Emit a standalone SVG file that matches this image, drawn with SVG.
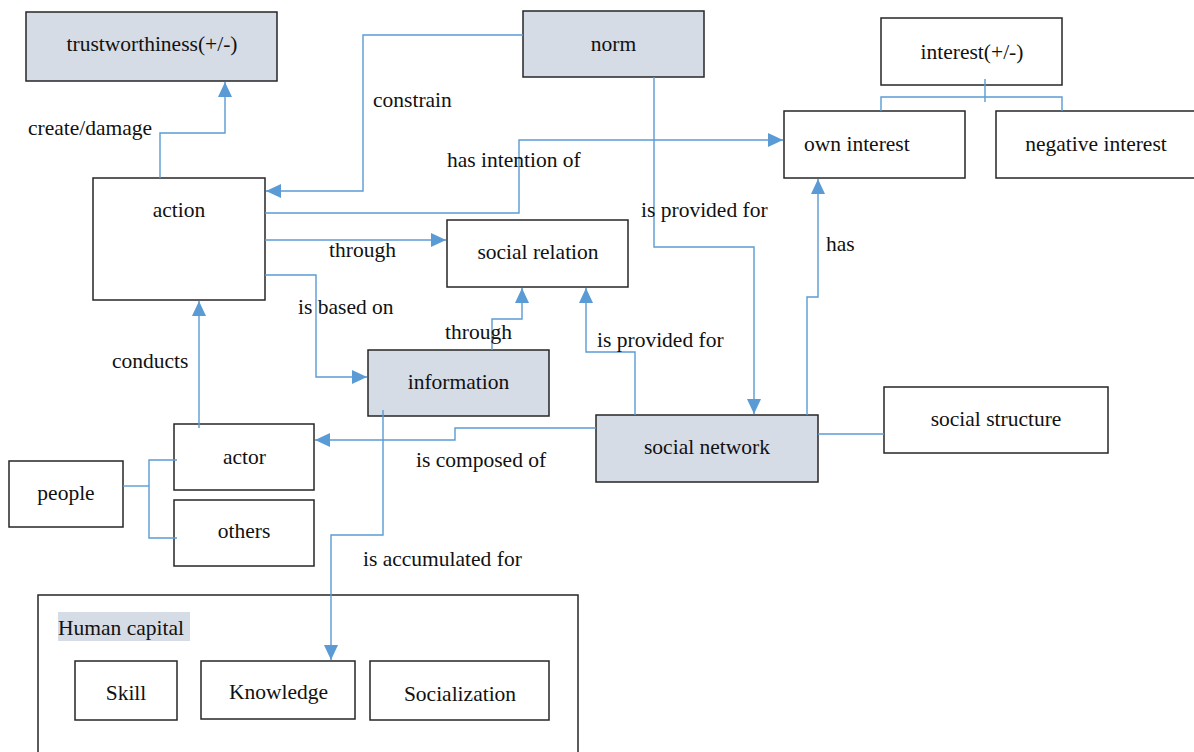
<svg xmlns="http://www.w3.org/2000/svg" width="1194" height="752" viewBox="0 0 1194 752">
<defs>
<style>
.box{fill:#ffffff;stroke:#262626;stroke-width:1.5}
.hl{fill:#d6dce5;stroke:#262626;stroke-width:1.5}
.c{fill:none;stroke:#5b9bd5;stroke-width:1.4}
.a{marker-end:url(#arr)}
text{font-family:'Liberation Serif','Tinos','Times New Roman','DejaVu Serif',serif;font-size:21.5px;fill:#111}
.m{text-anchor:middle}
</style>
<marker id="arr" markerUnits="userSpaceOnUse" markerWidth="16" markerHeight="14" refX="15" refY="7" orient="auto">
<path d="M0,0 L15,7 L0,14 z" fill="#5b9bd5"/>
</marker>
</defs>
<rect width="1194" height="752" fill="#ffffff"/>

<g id="trustworthiness"><rect class="hl" x="26" y="12" width="251" height="69"/><text class="m" x="152" y="51" font-family="Liberation Serif, serif">trustworthiness(+/-)</text></g>
<g id="norm"><rect class="hl" x="523" y="11" width="181" height="66"/><text class="m" x="613.5" y="51">norm</text></g>
<g id="interest"><rect class="box" x="881" y="18" width="181" height="67"/><text class="m" x="972" y="59">interest(+/-)</text></g>
<g id="own-interest"><rect class="box" x="784" y="111" width="181" height="67"/><text x="804" y="151">own interest</text></g>
<g id="negative-interest"><rect class="box" x="996" y="111" width="200" height="67"/><text class="m" x="1096" y="151">negative interest</text></g>
<g id="action"><rect class="box" x="93" y="178" width="172" height="122"/><text class="m" x="179" y="217">action</text></g>
<g id="social-relation"><rect class="box" x="447" y="220" width="181" height="67"/><text class="m" x="538" y="259">social relation</text></g>
<g id="information"><rect class="hl" x="368" y="350" width="181" height="66"/><text class="m" x="458.5" y="389">information</text></g>
<g id="social-network"><rect class="hl" x="596" y="415" width="222" height="67"/><text class="m" x="707" y="454">social network</text></g>
<g id="social-structure"><rect class="box" x="884" y="387" width="224" height="66"/><text class="m" x="996" y="426">social structure</text></g>
<g id="actor"><rect class="box" x="174" y="424" width="140" height="66"/><text class="m" x="244.5" y="464">actor</text></g>
<g id="others"><rect class="box" x="174" y="500" width="140" height="66"/><text class="m" x="244" y="538">others</text></g>
<g id="people"><rect class="box" x="9" y="461" width="114" height="66"/><text class="m" x="66" y="500">people</text></g>
<g id="human-capital">
<rect class="box" x="38" y="595" width="540" height="170"/>
<rect x="58" y="612" width="132" height="29" fill="#d6dce5"/>
<text x="58" y="635">Human capital</text>
</g>
<g id="skill"><rect class="box" x="75" y="661" width="102" height="59"/><text class="m" x="126" y="700">Skill</text></g>
<g id="knowledge"><rect class="box" x="201" y="661" width="154" height="58"/><text class="m" x="278.5" y="699">Knowledge</text></g>
<g id="socialization"><rect class="box" x="370" y="661" width="179" height="59"/><text class="m" x="460" y="701">Socialization</text></g>

<g id="connectors">
<polyline class="c a" points="160,178 160,133 225,133 225,82"/>
<polyline class="c a" points="523,35 363,35 363,191 266,191"/>
<polyline class="c a" points="265,213 519,213 519,140 783,140"/>
<polyline class="c a" points="265,240 446,240"/>
<polyline class="c a" points="265,275 316,275 316,377 367,377"/>
<polyline class="c a" points="199,428 199,301"/>
<polyline class="c a" points="492,350 492,319 522,319 522,288"/>
<polyline class="c a" points="635,415 635,352 586,352 586,288"/>
<polyline class="c a" points="654,77 654,247 754,247 754,414"/>
<polyline class="c a" points="807,415 807,297 818,297 818,179"/>
<polyline class="c" points="985,79 985,102"/>
<polyline class="c" points="881,111 881,97 1062,97 1062,111"/>
<polyline class="c a" points="596,428 455,428 455,440 315,440"/>
<polyline class="c" points="818,434 884,434"/>
<polyline class="c" points="123,486 149,486"/>
<polyline class="c" points="177,460 149,460 149,538 177,538"/>
<polyline class="c a" points="383,410 383,535 331,535 331,660"/>
</g>

<g id="labels">
<text x="28" y="135">create/damage</text>
<text x="373" y="107">constrain</text>
<text x="447" y="167">has intention of</text>
<text x="329" y="257">through</text>
<text x="298" y="314">is based on</text>
<text x="641" y="217">is provided for</text>
<text x="826" y="251">has</text>
<text x="112" y="368">conducts</text>
<text x="445" y="339">through</text>
<text x="597" y="347">is provided for</text>
<text x="416" y="467">is composed of</text>
<text x="363" y="566">is accumulated for</text>
</g>
</svg>
